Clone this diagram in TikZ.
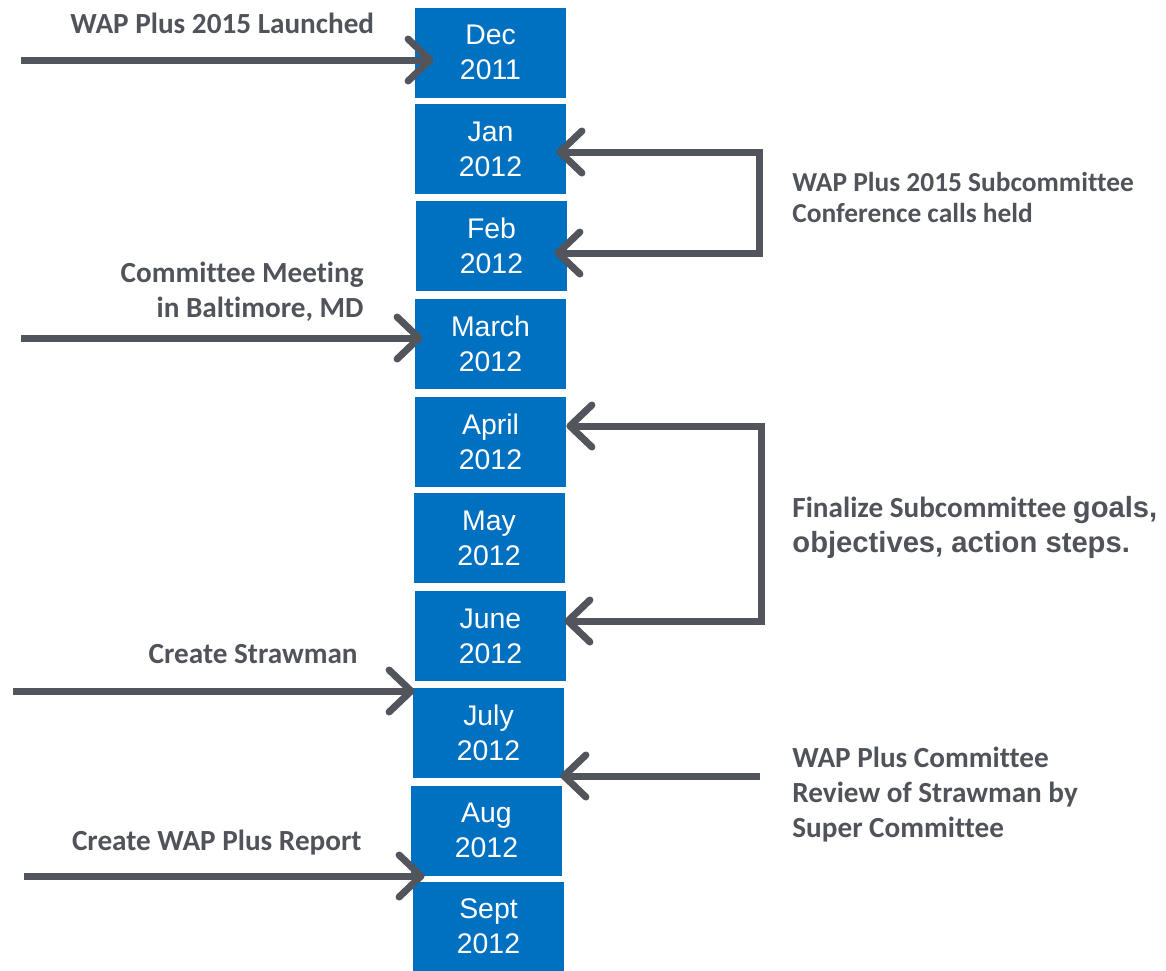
\documentclass[tikz,border=0pt]{standalone}
\usepackage{fontspec}
\setmainfont{Liberation Sans}
\newfontfamily\calibri{Carlito}[Ligatures=NoCommon]
\usetikzlibrary{arrows.meta}
\definecolor{boxblue}{HTML}{0070C0}
\definecolor{arrowgray}{HTML}{52565C}
\definecolor{textgray}{HTML}{50545A}
\tikzset{
    month/.style={fill=boxblue,text=white,minimum width=75.5pt,minimum height=45pt,
        inner sep=0pt,align=center,font=\fontsize{14.2}{17.5}\selectfont},
    barb/.tip={Straight Barb[length=11pt,width=21pt,round]},
    evarrow/.style={draw=arrowgray,line width=3.5pt,-barb},
    evbracket/.style={draw=arrowgray,line width=3.5pt,barb-barb},
    note/.style={text=textgray,inner sep=0pt,font=\calibri\bfseries\fontsize{14.6}{17.5}\selectfont}
}
\begin{document}
\begin{tikzpicture}[x=0.5pt,y=-0.5pt]
    \useasboundingbox (0,0) rectangle (1166,970);
    %% month boxes
    \foreach \nm/\mo/\yr/\x/\y in {dec/Dec/2011/490.5/52.5, jan/Jan/2012/490.5/149,
        feb/Feb/2012/491.5/246, mar/March/2012/490.5/344, apr/April/2012/490.5/442,
        may/May/2012/489/538, jun/June/2012/490.5/636, jul/July/2012/488.5/733,
        aug/Aug/2012/486.5/830.5, sep/Sept/2012/488.5/926.5}
        \node[month] (\nm) at (\x,\y) {\mo\\\yr};
    %% events on the left
    \coordinate (s1) at (21,60);
    \coordinate (s2) at (21,338);
    \coordinate (s3) at (13,691);
    \coordinate (s4) at (24,876);
    \draw[evarrow,shorten >=-9.5pt] (s1) -- (dec.west |- s1);
    \draw[evarrow,shorten >=-4pt] (s2) -- (mar.west |- s2);
    \draw[evarrow,shorten >=-1pt] (s3) -- (jul.west |- s3);
    \draw[evarrow,shorten >=-6pt] (s4) -- (sep.west |- s4);
    \node[note,anchor=base west] (launch) at (70,33) {WAP Plus 2015 Launched};
    \node[note,anchor=base east,align=right] (meeting) at (364,317) {Committee Meeting\\in Baltimore, MD};
    \node[note,anchor=base east] (straw) at (358,663) {Create Strawman};
    \node[note,anchor=base east] (report) at (362,850) {Create WAP Plus Report};
    %% events on the right
    \coordinate (k1) at (759,152);
    \coordinate (k2) at (759,253);
    \coordinate (k3) at (761,426);
    \coordinate (k4) at (761,621);
    \coordinate (k5) at (760,776);
    \draw[evbracket,shorten <=-5pt,shorten >=-6.5pt] (jan.east |- k1) -- (k1) -- (k2) -- (feb.east |- k2);
    \draw[evbracket,shorten >=-1pt] (apr.east |- k3) -- (k3) -- (k4) -- (jun.east |- k4);
    \draw[evarrow,shorten >=-2pt] (k5) -- (jul.east |- k5);
    \node[note,anchor=base west,align=left,font=\calibri\bfseries\fontsize{13.7}{15.2}\selectfont] (calls) at (792,222)
        {WAP Plus 2015 Subcommittee\\Conference calls held};
    \node[note,anchor=base west,align=left] (goals) at (792,552)
        {Finalize Subcommittee {\rmfamily\bfseries\fontsize{14.6}{17.5}\selectfont goals,}\\{\rmfamily\bfseries\fontsize{14.6}{17.5}\selectfont objectives, action steps.}};
    \node[note,anchor=base west,align=left] (review) at (792,837)
        {WAP Plus Committee\\Review of Strawman by\\Super Committee};
\end{tikzpicture}
\end{document}
